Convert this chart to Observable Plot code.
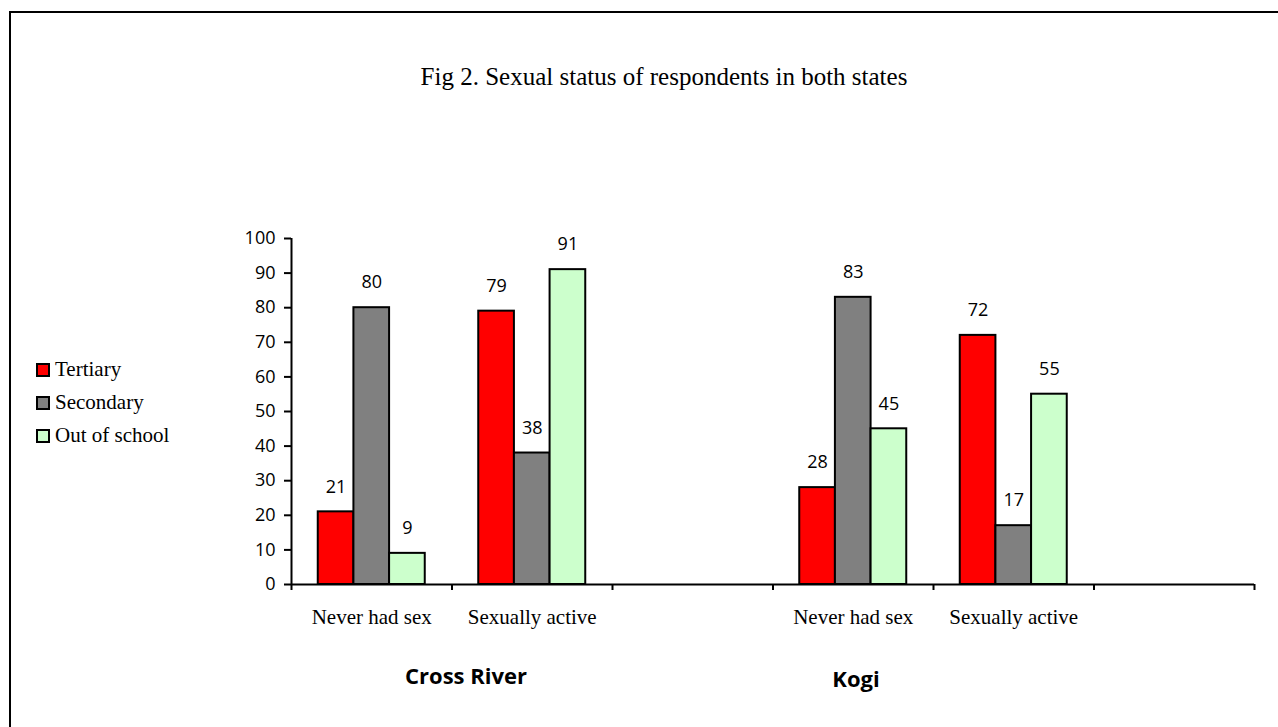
<!DOCTYPE html>
<html><head><meta charset="utf-8">
<script src="https://cdn.jsdelivr.net/npm/d3@7"></script>
<script src="https://cdn.jsdelivr.net/npm/@observablehq/plot@0.6"></script>
<style>
body{margin:0;background:#fff;}
#wrap{position:relative;width:1278px;height:727px;overflow:hidden;background:#fff;}
#border{position:absolute;left:9px;top:11px;width:1400px;height:900px;border:2px solid #000;box-sizing:border-box;}
#title{position:absolute;left:314px;width:700px;top:63px;text-align:center;font-family:"Liberation Serif",serif;font-size:25px;color:#000;white-space:nowrap;}
#legend{position:absolute;left:36px;top:353px;font-family:"Liberation Serif",serif;font-size:21px;color:#000;}
.li{display:flex;align-items:center;height:33px;}
.sw{width:10px;height:10px;border:2px solid #000;margin-right:5px;}
.state{position:absolute;font-family:"Open Sans",sans-serif;font-weight:bold;font-size:22px;color:#000;transform:translateX(-50%);white-space:nowrap;}
svg{position:absolute;left:0;top:0;}
</style>
</head><body>
<div id="wrap"><div id="border"></div><div id="title"></div><div id="legend"></div></div>
<script>
const titleText = "Fig 2. Sexual status of respondents in both states";
const states = ["Cross River", "Kogi"];
const statuses = ["Never had sex", "Sexually active"];
const levels = ["Tertiary", "Secondary", "Out of school"];
const colors = ["#FF0000", "#808080", "#CCFFCC"];
// values in order: Cross River (Never, Active), Kogi (Never, Active)
const tertiary = [21, 79, 28, 72];
const secondary = [80, 38, 83, 17];
const outOfSchool = [9, 91, 45, 55];
const yTicks = [0, 10, 20, 30, 40, 50, 60, 70, 80, 90, 100];

const seriesVals = [tertiary, secondary, outOfSchool];
const slotsPerState = statuses.length + 1;
const nSlots = states.length * slotsPerState;
const groupFrac = 2 / 3;
const barFrac = groupFrac / levels.length;

const data = [];
states.forEach((s, si) => statuses.forEach((st, ti) => levels.forEach((lv, li) => {
  const slot = si * slotsPerState + ti;
  const x1 = slot + (1 - groupFrac) / 2 + li * barFrac;
  data.push({state: s, status: st, level: lv, value: seriesVals[li][si * statuses.length + ti], x1, x2: x1 + barFrac});
})));
const catLabels = [];
states.forEach((s, si) => statuses.forEach((st, ti) => catLabels.push({x: si * slotsPerState + ti + 0.5, text: st})));

document.getElementById("title").textContent = titleText;
const leg = document.getElementById("legend");
levels.forEach((lv, i) => {
  const d = document.createElement("div"); d.className = "li";
  d.innerHTML = `<div class="sw" style="background:${colors[i]}"></div><span>${lv}</span>`;
  leg.appendChild(d);
});

const chart = Plot.plot({
  width: 1278, height: 727,
  marginLeft: 291, marginRight: 24, marginTop: 238, marginBottom: 143,
  style: {background: "transparent", color: "#000"},
  x: {domain: [0, nSlots], axis: null},
  y: {domain: [0, 100], axis: null},
  color: {domain: levels, range: colors},
  marks: [
    Plot.rectY(data, {x1: "x1", x2: "x2", y: "value", fill: "level", stroke: "#000", strokeWidth: 2}),
    Plot.text(data, {x: d => (d.x1 + d.x2) / 2, y: "value", text: d => String(d.value), dy: -25, lineAnchor: "middle", fontSize: 18, fontFamily: "Open Sans", fill: "#000"}),
    Plot.axisY({ticks: yTicks, label: null, tickSize: 7, tickPadding: 9, fontSize: 18, fontFamily: "Open Sans", strokeWidth: 2, stroke: "#000", fill: "#000"}),
    Plot.axisX({ticks: d3.range(0, nSlots + 1), label: null, tickSize: 6, tickFormat: () => "", strokeWidth: 2, stroke: "#000"}),
    Plot.ruleX([0], {y1: 0, y2: 100, strokeWidth: 2, stroke: "#000"}),
    Plot.ruleY([0], {x1: 0, x2: nSlots, strokeWidth: 2, stroke: "#000"}),
    Plot.text(catLabels, {x: "x", y: 0, text: "text", dy: 25, lineAnchor: "top", fontSize: 21, fontFamily: "Liberation Serif", fill: "#000"})
  ]
});
document.getElementById("wrap").appendChild(chart);

const statePos = [{left: 466, top: 660}, {left: 856, top: 663}];
states.forEach((s, i) => {
  const d = document.createElement("div"); d.className = "state";
  d.style.left = statePos[i].left + "px"; d.style.top = statePos[i].top + "px";
  d.textContent = s;
  document.getElementById("wrap").appendChild(d);
});
</script>
</body></html>
